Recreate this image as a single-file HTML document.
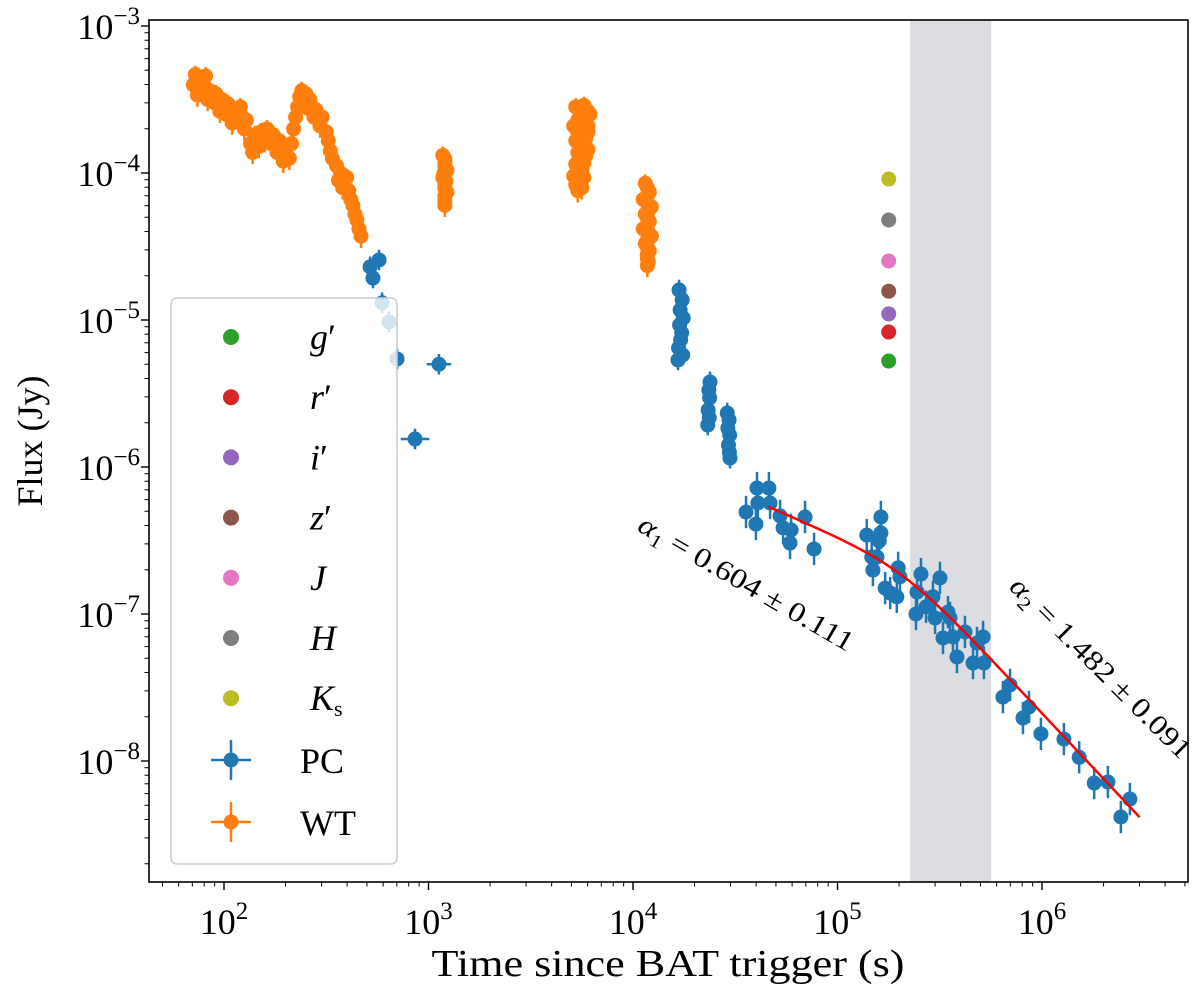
<!DOCTYPE html>
<html><head><meta charset="utf-8"><style>
html,body{margin:0;padding:0;background:#fff}
svg{display:block;font-family:"Liberation Serif",serif}
</style></head><body>
<svg id="chart" width="1200" height="991" viewBox="0 0 1200 991" xmlns="http://www.w3.org/2000/svg">
<g id="plot"></g>
</svg>
<script>
// ---------- data ----------
const xTickExps = [2, 3, 4, 5, 6];
const yTickExps = [-3, -4, -5, -6, -7, -8];
// PC (Swift/XRT photon counting) points: time (s), flux (Jy)
const pcTime = [518,573,535,593,641,702,1125,859,
 16800,17400,17000,17600,16900,17300,17100,16700,17500,16600,
 23800,23500,23700,23300,23600,23200,
 28900,29500,29100,29700,29300,29600,29800,
 40400,46200,35700,40800,46800,39900,52400,54200,59300,58600,69400,76800,
 139000,163000,163000,160000,147000,156000,149000,171000,181000,198000,202000,195000,
 245000,256000,242000,271000,293000,300000,317000,347000,355000,328000,367000,384000,420000,481000,515000,460000,520000,
 644000,698000,807000,864000,988000,1280000,1520000,1800000,2100000,2430000,2690000];
const pcFlux = [2.30e-5,2.56e-5,1.93e-5,1.31e-5,9.7e-6,5.43e-6,5.0e-6,1.55e-6,
 1.6e-5,1.37e-5,1.17e-5,1.03e-5,9.25e-6,8.17e-6,7.32e-6,6.46e-6,5.78e-6,5.35e-6,
 3.79e-6,3.34e-6,2.95e-6,2.44e-6,2.16e-6,1.93e-6,
 2.33e-6,2.09e-6,1.84e-6,1.65e-6,1.41e-6,1.26e-6,1.15e-6,
 7.19e-7,7.19e-7,4.94e-7,5.69e-7,5.69e-7,4.09e-7,4.65e-7,3.85e-7,3.73e-7,3.04e-7,4.57e-7,2.77e-7,
 3.44e-7,4.57e-7,3.56e-7,3.14e-7,2.44e-7,2.44e-7,1.99e-7,1.50e-7,1.39e-7,2.06e-7,1.79e-7,1.31e-7,
 1.41e-7,1.87e-7,1.0e-7,1.12e-7,1.31e-7,9.4e-8,1.76e-7,1.03e-7,9.4e-8,6.87e-8,6.98e-8,5.1e-8,7.55e-8,6.35e-8,6.98e-8,4.64e-8,4.64e-8,
 2.72e-8,3.29e-8,1.96e-8,2.33e-8,1.53e-8,1.41e-8,1.06e-8,7.08e-9,7.19e-9,4.16e-9,5.51e-9];
const pcTimeErrIdx = [6, 7];
const pcTimeErrDex = [0.06, 0.07];
// WT points stored as log10 values
const wtLogT = [1.85,1.86,1.87,1.88,1.90,1.91,1.92,1.93,1.95,1.96,1.98,1.99,2.01,2.02,2.04,2.05,2.07,2.08,2.10,2.11,2.13,2.14,2.15,2.17,2.18,2.20,2.21,2.23,2.24,2.26,2.27,2.29,2.30,2.32,2.33,2.34,2.35,2.36,2.37,2.38,2.39,2.40,2.41,2.42,2.44,2.45,2.47,2.48,2.50,2.51,2.52,2.53,2.55,2.56,2.57,2.58,2.60,2.61,2.62,2.63,2.64,2.65,2.66,2.67,
 3.07,3.08,3.09,3.07,3.08,3.09,3.08,3.08,
 3.08,3.08,3.075,3.085,3.08,3.08,3.08,
 3.72,3.76,3.74,3.77,3.71,3.75,3.78,3.72,3.76,3.73,3.77,3.72,3.75,3.71,3.74,3.73,
 3.74,3.78,3.73,3.77,3.73,3.77,3.74,3.78,3.74,3.76,3.73,3.76,3.72,3.75,3.78,3.79,
 4.06,4.08,4.05,4.09,4.06,4.08,4.05,4.09,4.06,4.08,4.07,4.07,
 4.07,4.07,4.07,4.075,4.07,4.07,4.075,4.07,4.07,4.07,4.075];
const wtLogF = [-3.40,-3.33,-3.47,-3.36,-3.42,-3.34,-3.50,-3.44,-3.52,-3.46,-3.58,-3.50,-3.60,-3.53,-3.66,-3.58,-3.62,-3.55,-3.70,-3.64,-3.80,-3.86,-3.74,-3.82,-3.72,-3.78,-3.70,-3.80,-3.74,-3.86,-3.78,-3.92,-3.85,-3.90,-3.80,-3.70,-3.62,-3.55,-3.48,-3.44,-3.52,-3.46,-3.56,-3.50,-3.62,-3.57,-3.68,-3.62,-3.72,-3.78,-3.85,-3.90,-3.95,-4.05,-4.00,-4.10,-4.03,-4.12,-4.18,-4.22,-4.28,-4.32,-4.38,-4.43,
 -3.88,-3.93,-3.98,-4.03,-4.08,-4.13,-4.18,-4.22,
 -3.905,-3.955,-4.005,-4.055,-4.105,-4.155,-4.20,
 -3.55,-3.54,-3.60,-3.62,-3.68,-3.70,-3.72,-3.78,-3.80,-3.86,-3.88,-3.94,-3.98,-4.02,-4.06,-4.12,
 -3.57,-3.58,-3.64,-3.66,-3.72,-3.76,-3.83,-3.84,-3.90,-3.93,-3.99,-4.03,-4.08,-4.10,-3.68,-3.60,
 -4.07,-4.13,-4.18,-4.23,-4.28,-4.33,-4.38,-4.43,-4.48,-4.53,-4.58,-4.63,
 -4.10,-4.155,-4.205,-4.255,-4.305,-4.355,-4.405,-4.455,-4.505,-4.555,-4.605];
// optical/NIR photometry
const optBands = ["g","r","i","z","J","H","Ks"];
const optColors = ["#2ca02c","#d62728","#9467bd","#8c564b","#e377c2","#7f7f7f","#bcbd22"];
const optTime = [178000,178000,178000,178000,178000,178000,178000];
const optFlux = [5.26e-6,8.28e-6,1.10e-5,1.57e-5,2.52e-5,4.79e-5,9.10e-5];
// broken power-law fit
const fitAlpha = [0.604, 1.482];
const fitBreakTime = [208900];
const fitBreakFlux = [1.81e-7];
const fitRange = [46000, 3000000];
// shaded interval
const bandRange = [226000, 564000];

// ---------- axes ----------
const X0 = 149, X1 = 1188, Y0 = 20, Y1 = 882;
function sx(t){ return 224 + (Math.log10(t) - 2) * 204.5; }
function sy(f){ return 26 + (-3 - Math.log10(f)) * 147; }
function sxl(l){ return 224 + (l - 2) * 204.5; }
function syl(l){ return 26 + (-3 - l) * 147; }

const NS = "http://www.w3.org/2000/svg";
const root = document.getElementById("plot");
function mk(tag, attrs, parent){
  const e = document.createElementNS(NS, tag);
  for (const k in attrs) e.setAttribute(k, attrs[k]);
  (parent || root).appendChild(e);
  return e;
}

const defs = mk("defs", {});
const cp = mk("clipPath", {id: "clip"}, defs);
mk("rect", {x: X0, y: Y0, width: X1 - X0, height: Y1 - Y0}, cp);

const band = mk("rect", {x: sx(bandRange[0]), y: Y0, width: sx(bandRange[1]) - sx(bandRange[0]), height: Y1 - Y0, fill: "#dcdde0"});



const dataG = mk("g", {"clip-path": "url(#clip)"});



const wtG = mk("g", {}, dataG);


for (let i = 0; i < wtLogT.length; i++) {
  const x = sxl(wtLogT[i]), y = syl(wtLogF[i]);
  const l = mk("line", {x1: x, x2: x, y1: syl(wtLogF[i] + 0.06), y2: syl(wtLogF[i] - 0.08), stroke: "#ff7f0e", "stroke-width": 2.5}, wtG);
  
  
  const c = mk("circle", {cx: x, cy: y, r: 7.5, fill: "#ff7f0e"}, wtG);
  
  
}

const pcG = mk("g", {}, dataG);


for (let i = 0; i < pcTime.length; i++) {
  const x = sx(pcTime[i]), y = sy(pcFlux[i]);
  const lf = Math.log10(pcFlux[i]);
  const e = pcTime[i] > 30000 ? 0.11 : 0.07;
  const l = mk("line", {x1: x, x2: x, y1: syl(lf + e), y2: syl(lf - e), stroke: "#1f77b4", "stroke-width": 2.5}, pcG);
  
  
  const k = pcTimeErrIdx.indexOf(i);
  if (k >= 0) {
    const lt = Math.log10(pcTime[i]);
    const h = mk("line", {x1: sxl(lt - pcTimeErrDex[k]), x2: sxl(lt + pcTimeErrDex[k]), y1: y, y2: y, stroke: "#1f77b4", "stroke-width": 2.5}, pcG);
    
    
  }
  const c = mk("circle", {cx: x, cy: y, r: 7.5, fill: "#1f77b4"}, pcG);
  
  
}

let pts = [];
const la = Math.log10(fitRange[0]), lb = Math.log10(fitRange[1]);
for (let j = 0; j <= 120; j++) {
  const lt = la + (lb - la) * j / 120;
  const r = Math.pow(10, lt) / fitBreakTime[0];
  const s = 4;
  const f = fitBreakFlux[0] * Math.pow(Math.pow(r, fitAlpha[0] * s) + Math.pow(r, fitAlpha[1] * s), -1 / s) * Math.pow(2, 1 / s);
  pts.push(sxl(lt).toFixed(1) + "," + sy(f).toFixed(1));
}
const fit = mk("polyline", {points: pts.join(" "), fill: "none", stroke: "#ff0000", "stroke-width": 2.5}, dataG);



for (let i = 0; i < optTime.length; i++) {
  const c = mk("circle", {cx: sx(optTime[i]), cy: sy(optFlux[i]), r: 7.5, fill: optColors[i]}, dataG);
  
  
}

const a1 = mk("text", {x: 0, y: 0, transform: "translate(636,530) rotate(30)", "font-size": 28, textLength: 244, lengthAdjust: "spacingAndGlyphs"});
a1.innerHTML = '<tspan font-style="italic">α</tspan><tspan font-size="19" dy="6">1</tspan><tspan dy="-6"> = 0.604 ± 0.111</tspan>';


const a2 = mk("text", {x: 0, y: 0, transform: "translate(1008,588) rotate(45)", "font-size": 28, textLength: 244, lengthAdjust: "spacingAndGlyphs"});
a2.innerHTML = '<tspan font-style="italic">α</tspan><tspan font-size="19" dy="6">2</tspan><tspan dy="-6"> = 1.482 ± 0.091</tspan>';



const frame = mk("rect", {x: X0, y: Y0, width: X1 - X0, height: Y1 - Y0, fill: "none", stroke: "#000", "stroke-width": 1.6});



const xAxis = mk("g", {});


for (let d = 1; d <= 6; d++) for (let m = 1; m <= 9; m++) {
  const x = sxl(d + Math.log10(m));
  if (x < X0 || x > X1) continue;
  mk("line", {x1: x, x2: x, y1: Y1, y2: Y1 + (m === 1 ? 8 : 4.5), stroke: "#000", "stroke-width": m === 1 ? 1.4 : 1}, xAxis);
}
for (const e of xTickExps) {
  const t = mk("text", {x: sxl(e), y: 934, "font-size": 36, "text-anchor": "middle"}, xAxis);
  t.innerHTML = '10<tspan font-size="25" dy="-15">' + e + '</tspan>';
  
  
}
const xt = mk("text", {x: 668, y: 976, "font-size": 38, "text-anchor": "middle", textLength: 473, lengthAdjust: "spacingAndGlyphs"}, xAxis);
xt.textContent = "Time since BAT trigger (s)";



const yAxis = mk("g", {});


for (let d = -9; d <= -3; d++) for (let m = 1; m <= 9; m++) {
  const y = syl(d + Math.log10(m));
  if (y < Y0 - 0.5 || y > Y1) continue;
  mk("line", {x1: X0, x2: X0 - (m === 1 ? 8 : 4.5), y1: y, y2: y, stroke: "#000", "stroke-width": m === 1 ? 1.4 : 1}, yAxis);
}
for (const e of yTickExps) {
  const t = mk("text", {x: 140, y: syl(e) + 13, "font-size": 36, "text-anchor": "end"}, yAxis);
  t.innerHTML = '10<tspan font-size="25" dy="-15">−' + (-e) + '</tspan>';
  
  
}
const yt = mk("text", {x: 0, y: 0, transform: "translate(42,441) rotate(-90)", "font-size": 36, "text-anchor": "middle"}, yAxis);
yt.textContent = "Flux (Jy)";



const lg = mk("g", {});


mk("rect", {x: 171, y: 298, width: 226, height: 566, rx: 6, fill: "rgba(255,255,255,0.8)", stroke: "#cccccc", "stroke-width": 1.5}, lg);
const legLabels = ['<tspan font-style="italic">g</tspan>′','<tspan font-style="italic">r</tspan>′','<tspan font-style="italic">i</tspan>′','<tspan font-style="italic">z</tspan>′','<tspan font-style="italic">J</tspan>','<tspan font-style="italic">H</tspan>','<tspan font-style="italic">K</tspan><tspan font-size="22" dy="6">s</tspan>'];
for (let i = 0; i < 7; i++) {
  const y = 337 + i * 60.2;
  const c = mk("circle", {cx: 231, cy: y, r: 8, fill: optColors[i]}, lg);
  
  
  const t = mk("text", {x: 310, y: y + 12, "font-size": 36}, lg);
  t.innerHTML = legLabels[i];
  
  
}
const eb = [["PC", "#1f77b4", 760], ["WT", "#ff7f0e", 822]];
for (const [name, col, y] of eb) {
  mk("line", {x1: 211, x2: 251, y1: y, y2: y, stroke: col, "stroke-width": 2.5}, lg);
  mk("line", {x1: 231, x2: 231, y1: y - 20, y2: y + 20, stroke: col, "stroke-width": 2.5}, lg);
  const c = mk("circle", {cx: 231, cy: y, r: 7.5, fill: col}, lg);
  
  
  const t = mk("text", {x: 300, y: y + 13, "font-size": 36}, lg);
  t.textContent = name;
  
  
}
</script>
</body></html>
